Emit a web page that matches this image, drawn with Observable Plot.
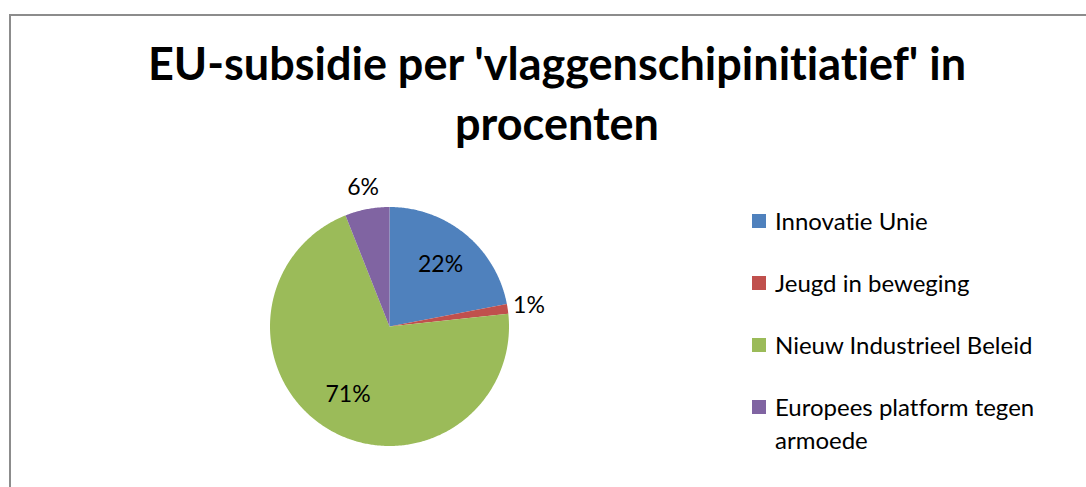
<!DOCTYPE html>
<html>
<head>
<meta charset="utf-8">
<script src="https://cdn.jsdelivr.net/npm/d3@7"></script>
<script src="https://cdn.jsdelivr.net/npm/@observablehq/plot@0.6"></script>
<style>
  html, body { margin: 0; padding: 0; background: #fff; }
  #page { position: relative; width: 1086px; height: 487px; overflow: hidden; font-family: Lato, "Open Sans", sans-serif; font-variant-ligatures: none; font-feature-settings: "liga" 0, "clig" 0; }
  #frame { position: absolute; left: 9px; top: 14px; width: 1200px; height: 600px; border-left: 2px solid #8c8c8c; border-top: 2px solid #8c8c8c; }
  #title { position: absolute; left: 0; width: 1114px; top: 33px; text-align: center; font-weight: 700; font-size: 45px; line-height: 60px; color: #000; }
  #pie { position: absolute; left: 239px; top: 176px; }
  #legend { position: absolute; left: 752px; top: 204px; }
  .item { display: flex; align-items: flex-start; margin-bottom: 29px; }
  .sw { width: 14px; height: 14px; margin-top: 10px; margin-right: 9px; flex: none; }
  .lt { font-size: 24px; line-height: 33px; max-width: 290px; color: #000; }
</style>
</head>
<body>
<div id="page">
  <div id="frame"></div>
  <div id="title"></div>
  <div id="pie"></div>
  <div id="legend"></div>
</div>
<script>
const titleLines = ["EU-subsidie per 'vlaggenschipinitiatief' in", "procenten"];
const categories = ["Innovatie Unie", "Jeugd in beweging", "Nieuw Industrieel Beleid", "Europees platform tegen armoede"];
const values = [22.0, 1.3, 70.7, 6.0];
const valueLabels = ["22%", "1%", "71%", "6%"];
const colors = ["#4F81BD", "#C0504D", "#9BBB59", "#8064A2"];

document.getElementById("title").innerHTML = titleLines.join("<br>");

const total = d3.sum(values);
const slicePts = [];
const labelPts = [];
let cum = 0;
categories.forEach((c, i) => {
  const a0 = cum / total * 2 * Math.PI;
  cum += values[i];
  const a1 = cum / total * 2 * Math.PI;
  slicePts.push({cat: c, x: 0, y: 0});
  const n = Math.max(2, Math.ceil((a1 - a0) / 0.01));
  for (let k = 0; k <= n; k++) {
    const a = a0 + (a1 - a0) * k / n;
    slicePts.push({cat: c, x: Math.sin(a), y: Math.cos(a)});
  }
  const am = (a0 + a1) / 2;
  const r = values[i] / total > 0.1 ? 0.67 : 1.18;
  labelPts.push({cat: c, text: valueLabels[i], x: r * Math.sin(am), y: r * Math.cos(am)});
});

const R = 119.5, W = 300;
const D = (W / 2) / R;
const chart = Plot.plot({
  width: W, height: W, margin: 0,
  x: {domain: [-D, D], axis: null},
  y: {domain: [-D, D], axis: null},
  color: {domain: categories, range: colors},
  style: {fontFamily: "Lato, 'Open Sans', sans-serif", background: "transparent", overflow: "visible"},
  marks: [
    Plot.line(slicePts, {x: "x", y: "y", z: "cat", fill: "cat", stroke: "none", curve: "linear-closed"}),
    Plot.text(labelPts, {x: "x", y: "y", text: "text", fontSize: 23, fill: "#000"})
  ]
});
document.getElementById("pie").appendChild(chart);

const legend = document.getElementById("legend");
categories.forEach((c, i) => {
  const it = document.createElement("div");
  it.className = "item";
  const sw = document.createElement("div");
  sw.className = "sw";
  sw.style.background = colors[i];
  const lt = document.createElement("div");
  lt.className = "lt";
  lt.textContent = c;
  it.appendChild(sw); it.appendChild(lt);
  legend.appendChild(it);
});
</script>
</body>
</html>
